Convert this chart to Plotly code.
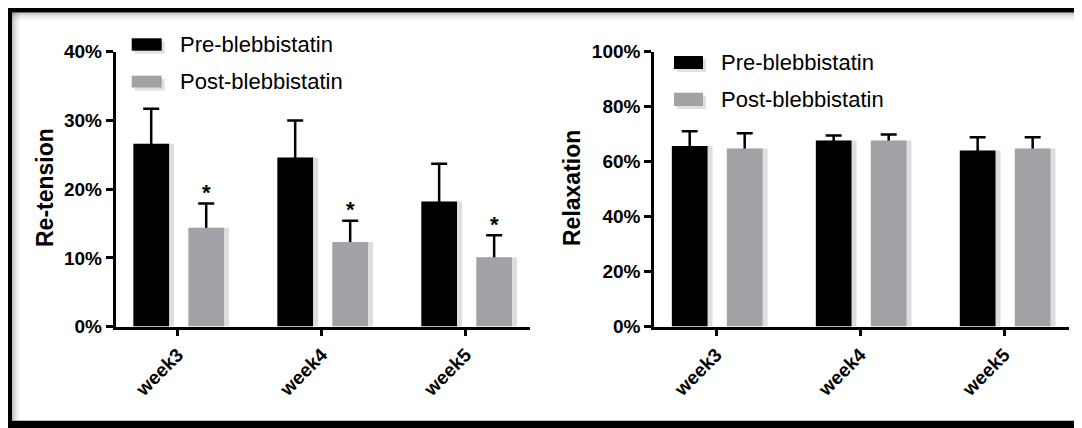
import plotly.graph_objects as go

# ---------------- data ----------------
weeks = ["week3", "week4", "week5"]
series_names = ["Pre-blebbistatin", "Post-blebbistatin"]

retension_pre = [26.6, 24.6, 18.2]
retension_pre_err = [5.1, 5.4, 5.5]
retension_post = [14.4, 12.3, 10.1]
retension_post_err = [3.5, 3.1, 3.2]
retension_signif = ["*", "*", "*"]

relax_pre = [65.7, 67.7, 64.1]
relax_pre_err = [5.4, 1.8, 4.8]
relax_post = [64.8, 67.7, 64.8]
relax_post_err = [5.5, 2.2, 4.1]

left_ticks = [0, 10, 20, 30, 40]
right_ticks = [0, 20, 40, 60, 80, 100]
left_title = "Re-tension"
right_title = "Relaxation"

# ---------------- style ----------------
W, H = 1082, 428
# the page body adds an 8px offset; positions below are given in screen pixels
OX, OY = 8, 8
FONT = "Liberation Sans, Arial, Helvetica, sans-serif"
BLACK = "#000000"
GRAY = "#A2A2A6"
colors = [BLACK, GRAY]

def fx(px):
    return (px - OX) / W

def fy(py):
    return 1 - (py - OY) / H

BAR_W = 0.248
OFFSETS = [-0.308, 0.074]
SHADOW_SHIFT = 0.035
XRANGE = [-0.432, 2.447]

fig = go.Figure()

panels = [
    ("x", "y", [retension_pre, retension_post], [retension_pre_err, retension_post_err]),
    ("x2", "y2", [relax_pre, relax_post], [relax_pre_err, relax_post_err]),
]

for xa, ya, vals, errs in panels:
    # error-bar carriers (drawn first so that bars hide the lower half)
    for k in range(2):
        fig.add_trace(go.Bar(
            x=weeks, y=vals[k], xaxis=xa, yaxis=ya,
            width=BAR_W, offset=OFFSETS[k],
            marker=dict(color="rgba(0,0,0,0)", line=dict(width=0)),
            error_y=dict(type="data", array=errs[k], symmetric=True,
                         color=BLACK, thickness=2.5, width=8),
            showlegend=False, hoverinfo="skip",
        ))
    # soft drop shadows
    for k in range(2):
        fig.add_trace(go.Bar(
            x=weeks, y=vals[k], xaxis=xa, yaxis=ya,
            width=BAR_W, offset=OFFSETS[k] + SHADOW_SHIFT,
            marker=dict(color="rgba(0,0,0,0.13)", line=dict(width=0)),
            showlegend=False, hoverinfo="skip",
        ))
    for k in range(2):
        fig.add_trace(go.Bar(
            x=weeks, y=vals[k], xaxis=xa, yaxis=ya, name=series_names[k],
            width=BAR_W, offset=OFFSETS[k],
            marker=dict(color=colors[k], line=dict(width=0)),
            showlegend=False,
        ))

axis_common = dict(
    showline=True, linecolor=BLACK, linewidth=2.5, mirror=False,
    ticks="outside", ticklen=7, tickwidth=2.5, tickcolor=BLACK,
    showgrid=False, zeroline=False, automargin=False,
    tickfont=dict(family=FONT, size=19, color=BLACK, weight="bold"),
)

ydom = [fy(326.6), fy(51.7)]
fig.update_layout(
    template="none",
    width=W, height=H,
    margin=dict(l=0, r=0, t=0, b=0, pad=0, autoexpand=False),
    paper_bgcolor="white", plot_bgcolor="rgba(0,0,0,0)",
    barmode="overlay",
    showlegend=False,
    xaxis=dict(domain=[fx(115.5), fx(530)], anchor="y", type="category",
               range=XRANGE, tickangle=-45, **axis_common),
    yaxis=dict(domain=ydom, anchor="x", range=[0, 40],
               tickvals=left_ticks, ticktext=[f"{v}%" for v in left_ticks], **axis_common),
    xaxis2=dict(domain=[fx(654), fx(1068.5)], anchor="y2", type="category",
                range=XRANGE, tickangle=-45, **axis_common),
    yaxis2=dict(domain=ydom, anchor="x2", range=[0, 100],
                tickvals=right_ticks, ticktext=[f"{v}%" for v in right_ticks], **axis_common),
)

annotations = []
# axis titles
for xpx, txt in [(45, left_title), (572, right_title)]:
    annotations.append(dict(
        x=fx(xpx), y=fy(188), xref="paper", yref="paper", text=txt,
        textangle=-90, showarrow=False, xanchor="center", yanchor="middle",
        font=dict(family=FONT, size=23, color=BLACK, weight="bold"),
    ))

# significance marks
for i, mark in enumerate(retension_signif):
    if mark:
        annotations.append(dict(
            x=i + OFFSETS[1] + BAR_W / 2, y=retension_post[i] + retension_post_err[i],
            xref="x", yref="y", text=mark, showarrow=False,
            xanchor="center", yanchor="middle", yshift=11,
            font=dict(family=FONT, size=22, color=BLACK, weight="bold"),
        ))

shapes = []
# custom legends
legend_boxes = [
    (131.7, 161.7, [(38.3, 50.7, 44.5), (75.7, 87.5, 81.5)], 178),
    (674.0, 703.0, [(56.0, 69.0, 62.5), (92.7, 106.0, 99.3)], 719),
]
for x0, x1, rows, xt in legend_boxes:
    for k, (y0, y1, yt) in enumerate(rows):
        shapes.append(dict(type="rect", xref="paper", yref="paper",
                           x0=fx(x0 + 3), x1=fx(x1 + 3), y0=fy(y1 + 3), y1=fy(y0 + 3),
                           fillcolor="rgba(0,0,0,0.12)", line=dict(width=0)))
        shapes.append(dict(type="rect", xref="paper", yref="paper",
                           x0=fx(x0), x1=fx(x1), y0=fy(y1), y1=fy(y0),
                           fillcolor=colors[k], line=dict(width=0)))
        annotations.append(dict(
            x=fx(xt), y=fy(yt), xref="paper", yref="paper", text=series_names[k],
            showarrow=False, xanchor="left", yanchor="middle",
            font=dict(family=FONT, size=22, color=BLACK),
        ))

# frame shadow (inner soft gradient)
for j, a in enumerate([0.22, 0.13, 0.07, 0.03]):
    shapes.append(dict(type="line", xref="paper", yref="paper",
                       x0=fx(12), x1=fx(1100), y0=fy(13.5 + 2 * j), y1=fy(13.5 + 2 * j),
                       line=dict(color=f"rgba(0,0,0,{a})", width=2)))
    shapes.append(dict(type="line", xref="paper", yref="paper",
                       x0=fx(13 + 2 * j), x1=fx(13 + 2 * j), y0=fy(12.5), y1=fy(420.5),
                       line=dict(color=f"rgba(0,0,0,{a})", width=2)))
# frame bands (left, top, bottom)
band = dict(type="rect", xref="paper", yref="paper", fillcolor=BLACK, line=dict(width=0))
shapes.append(dict(band, x0=fx(4), x1=fx(12), y0=fy(440), y1=fy(4.5)))
shapes.append(dict(band, x0=fx(4), x1=fx(1100), y0=fy(12.5), y1=fy(4.5)))
shapes.append(dict(band, x0=fx(4), x1=fx(1100), y0=fy(440), y1=fy(420.7)))

fig.update_layout(annotations=annotations, shapes=shapes)

fig.write_html("out.html")
